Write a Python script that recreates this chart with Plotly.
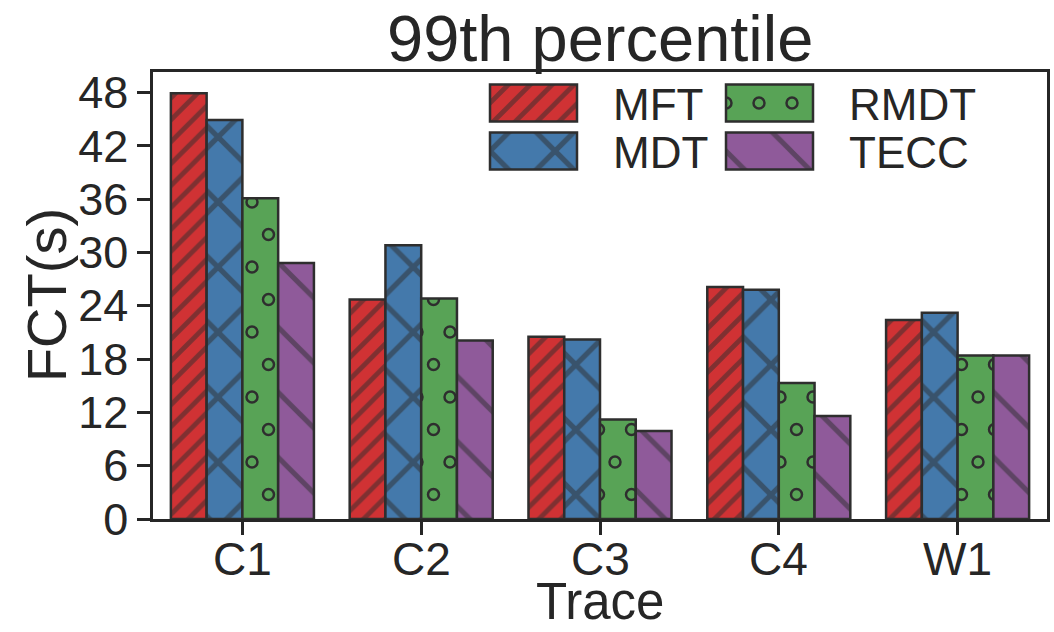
import plotly.graph_objects as go

categories = ["C1", "C2", "C3", "C4", "W1"]
series_names = ["MFT", "MDT", "RMDT", "TECC"]
mft = [47.9, 24.7, 20.5, 26.1, 22.4]
mdt = [44.9, 30.8, 20.2, 25.8, 23.2]
rmdt = [36.1, 24.8, 11.2, 15.3, 18.4]
tecc = [28.8, 20.1, 9.9, 11.6, 18.4]
y_ticks = [0, 6, 12, 18, 24, 30, 36, 42, 48]

values = [mft, mdt, rmdt, tecc]
colors = ["#d03234", "#4479ab", "#58a356", "#8f5a9a"]
patterns = [
    dict(shape="/", size=15.5, solidity=0.31),
    dict(shape="x", size=46, solidity=0.22),
    dict(shape=".", size=32, solidity=0.11),
    dict(shape="\\", size=46, solidity=0.11),
]
ranks = [1, 3, 2, 4]
edge = "#2e2e2e"
txt = "#262626"
font_family = "Liberation Sans, Arial, sans-serif"

fig = go.Figure()
for name, vals, col, pat, rk in zip(series_names, values, colors, patterns, ranks):
    fig.add_trace(go.Bar(
        x=categories, y=vals, name=name, legendrank=rk,
        marker=dict(color=col, line=dict(color=edge, width=2.5),
                    pattern=dict(shape=pat["shape"], size=pat["size"], solidity=pat["solidity"],
                                 fgcolor=edge, bgcolor=col, fillmode="overlay")),
    ))

axis_common = dict(showline=True, linecolor=txt, linewidth=2.5, mirror=True,
                   ticks="outside", tickcolor=txt, tickwidth=2.5, ticklen=13,
                   showgrid=False, zeroline=False, automargin=False,
                   tickfont=dict(size=45, color=txt, family=font_family))

# x tick labels placed as annotations at each category (tighter to the axis, as in the reference)
tick_annotations = [
    dict(text=c, xref="x", yref="paper", x=c, y=0, yshift=-12,
         xanchor="center", yanchor="top", showarrow=False,
         font=dict(size=46, color=txt, family=font_family))
    for c in categories
]

fig.update_layout(
    width=1054, height=632,
    margin=dict(l=153, r=7, t=72, b=113),
    plot_bgcolor="white", paper_bgcolor="white",
    barmode="group", bargap=0.2, bargroupgap=0,
    font=dict(family=font_family, color=txt),
    xaxis=dict(**axis_common, showticklabels=False, categoryorder="array", categoryarray=categories),
    yaxis=dict(**axis_common, range=[0, 50.3], tickvals=y_ticks),
    legend=dict(orientation="h", x=0.99, xanchor="right", y=0.99, yanchor="top",
                entrywidth=236, entrywidthmode="pixels",
                font=dict(size=44, color=txt, family=font_family),
                bgcolor="rgba(0,0,0,0)", traceorder="normal"),
    annotations=tick_annotations + [
        dict(text="99th percentile", xref="paper", yref="paper", x=0.5, y=1.161,
             xanchor="center", yanchor="top", showarrow=False,
             font=dict(size=65, color=txt, family=font_family)),
        dict(text="Trace", xref="paper", yref="paper", x=0.5, y=-0.2528,
             xanchor="center", yanchor="bottom", showarrow=False,
             font=dict(size=51, color=txt, family=font_family)),
        dict(text="FCT(s)", xref="paper", yref="paper", x=-0.119, y=0.5, textangle=-90,
             xanchor="center", yanchor="middle", showarrow=False,
             font=dict(size=56, color=txt, family=font_family)),
    ],
)

post_js = """
(function(){
var gd = document.getElementById('{plot_id}');
var EDGE = '%s';
var NS = 'http://www.w3.org/2000/svg';
function fixPatterns(){
  gd.querySelectorAll('pattern').forEach(function(p){
    var c = p.querySelector('circle');
    if(!c || p.getAttribute('data-ring')) return;
    p.setAttribute('data-ring','1');
    var W = 33, H = 65;
    p.setAttribute('width', W); p.setAttribute('height', H);
    p.querySelectorAll('rect').forEach(function(r){ r.setAttribute('width', W); r.setAttribute('height', H); });
    p.querySelectorAll('circle').forEach(function(cc){ cc.remove(); });
    [[W/2,H/2],[0,0],[W,0],[0,H],[W,H]].forEach(function(pt){
      var n = document.createElementNS(NS, 'circle');
      n.setAttribute('cx', pt[0]); n.setAttribute('cy', pt[1]); n.setAttribute('r', 5.5);
      n.setAttribute('fill', 'none'); n.setAttribute('stroke', EDGE); n.setAttribute('stroke-width', 2.5);
      p.appendChild(n);
    });
  });
}
function fixLegend(){
  var pos = {0:[490,103], 1:[490,151], 2:[726,103], 3:[726,151]};
  var bars = gd.querySelectorAll('g.barlayer g.trace');
  gd.querySelectorAll('g.legend g.scrollbox').forEach(function(s){ s.removeAttribute('clip-path'); s.style.clipPath = 'none'; });
  gd.querySelectorAll('g.legend g.traces').forEach(function(it){
    var d = it.__data__; if(!d) return;
    var idx = d[0].trace.index;
    var P = pos[idx]; if(!P) return;
    it.setAttribute('transform', 'translate(0,0)');
    var m = it.getScreenCTM();
    it.setAttribute('transform', 'translate(' + (P[0] - m.e) + ',' + (P[1] - m.f) + ')');
    var bp = bars[idx] ? bars[idx].querySelector('path') : null;
    var paths = it.querySelectorAll('g.legendpoints path, g.legendsymbols path, path.legendbar');
    var first = true;
    paths.forEach(function(path){
      if(!first){ path.style.display = 'none'; return; }
      first = false;
      path.setAttribute('d', 'M0,-18.5H87V18.5H0Z');
      path.setAttribute('transform', 'translate(0,0)');
      var pm = path.getScreenCTM();
      path.setAttribute('transform', 'translate(' + (P[0] - pm.e) + ',' + (P[1] - pm.f) + ')');
      if(bp){ path.style.fill = bp.style.fill; path.style.fillOpacity = 1; }
      path.style.stroke = EDGE; path.style.strokeWidth = '2.5px'; path.style.strokeOpacity = 1;
    });
    var t = it.querySelector('text.legendtext');
    if(t){
      var tm = it.getScreenCTM();
      var tx = P[0] + 123 - tm.e;
      t.setAttribute('x', tx);
      t.querySelectorAll('tspan').forEach(function(ts){ if(ts.hasAttribute('x')) ts.setAttribute('x', tx); });
    }
  });
}
function run(){ try{ fixPatterns(); }catch(e){ console.log(e); } try{ fixLegend(); }catch(e){ console.log(e); } }
run();
setTimeout(run, 100);
setTimeout(run, 500);
if(gd.on){ gd.on('plotly_afterplot', run); }
})();
""" % edge

fig.write_html("out.html", post_script=post_js)
